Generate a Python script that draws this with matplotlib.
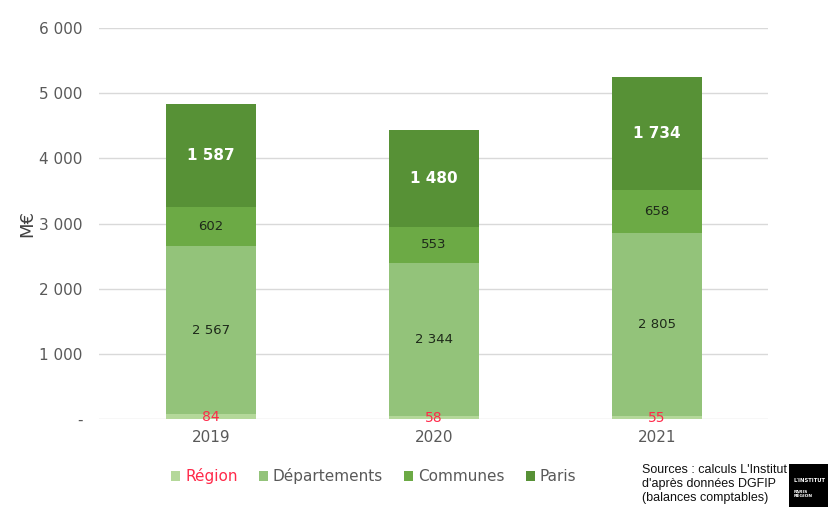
import matplotlib.pyplot as plt
import numpy as np

annees = ['2019', '2020', '2021']
region = [84, 58, 55]
departements = [2567, 2344, 2805]
communes = [602, 553, 658]
paris = [1587, 1480, 1734]

couleurs = ['#b4d89a', '#93c37a', '#6caa45', '#579136']
noms = ['Région', 'Départements', 'Communes', 'Paris']

def fmt(v):
    return '{:,}'.format(v).replace(',', ' ')

fig = plt.figure(figsize=(8.29, 5.07), dpi=100)
ax = fig.add_axes([0.12, 0.173, 0.807, 0.772])

x = np.arange(len(annees))
w = 0.4
series = [region, departements, communes, paris]
bas = np.zeros(len(annees))
for vals, c, nom in zip(series, couleurs, noms):
    ax.bar(x, vals, w, bottom=bas, color=c, label=nom, zorder=2)
    bas = bas + np.array(vals)

# etiquettes
for i in range(len(annees)):
    ax.text(x[i], region[i] / 2 - 5, str(region[i]), color='#ff2a4a',
            ha='center', va='center', fontsize=10)
    y0 = region[i]
    ax.text(x[i], y0 + departements[i] / 2, fmt(departements[i]), color='#1e2a1a',
            ha='center', va='center', fontsize=9.5)
    y0 += departements[i]
    ax.text(x[i], y0 + communes[i] / 2, fmt(communes[i]), color='#1e2a1a',
            ha='center', va='center', fontsize=9.5)
    y0 += communes[i]
    ax.text(x[i], y0 + paris[i] / 2, fmt(paris[i]), color='white',
            ha='center', va='center', fontsize=11, fontweight='bold')

ax.set_xlim(-0.5, 2.5)
ax.set_ylim(0, 6000)
ax.set_yticks(range(0, 6001, 1000))
ax.set_yticklabels(['-'] + [fmt(v) for v in range(1000, 6001, 1000)])
ax.set_xticks(x)
ax.set_xticklabels(annees)
ax.tick_params(axis='both', length=0, labelsize=11, colors='#595959', pad=12)
ax.tick_params(axis='x', pad=8)
ax.grid(axis='y', color='#d9d9d9', linewidth=1, zorder=0)
for s in ax.spines.values():
    s.set_visible(False)
ax.set_ylabel('M€', fontsize=13, color='#404040', labelpad=2)

leg = ax.legend(loc='upper center', bbox_to_anchor=(0.41, -0.09), ncol=4,
                frameon=False, fontsize=11, handlelength=0.6, handleheight=0.6,
                columnspacing=1.4, handletextpad=0.3)
for t in leg.get_texts():
    t.set_color('#595959')
leg.get_texts()[0].set_color('#ff2a4a')

fig.text(0.775, 0.005, "Sources : calculs L'Institut\nd'après données DGFIP\n(balances comptables)",
         fontsize=9, family='Liberation Sans', color='#111111', ha='left', va='bottom',
         linespacing=1.25)

# logo
lax = fig.add_axes([0.952, 0.0, 0.048, 0.085])
lax.set_facecolor('black')
lax.set_xticks([])
lax.set_yticks([])
for s in lax.spines.values():
    s.set_visible(False)
lax.text(0.1, 0.62, "L'INSTITUT", color='white', fontsize=3.8, fontweight='bold',
         transform=lax.transAxes, va='center', clip_on=True)
lax.text(0.1, 0.3, "PARIS\nRÉGION", color='white', fontsize=3.2, fontweight='bold',
         transform=lax.transAxes, va='center', linespacing=0.9)

plt.savefig('out.png', dpi=100)
